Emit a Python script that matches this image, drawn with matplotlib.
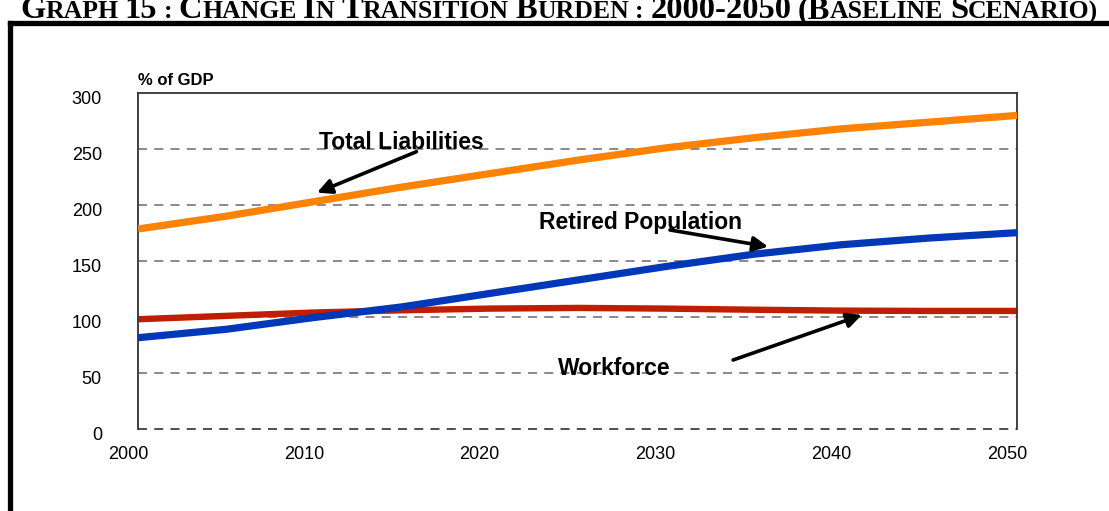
import matplotlib
matplotlib.use("Agg")
import matplotlib.pyplot as plt
import matplotlib.transforms as mtransforms
from matplotlib.lines import Line2D

# ---- data ----
years = [2000, 2005, 2010, 2015, 2020, 2025, 2030, 2035, 2040, 2045, 2050]
total_liabilities = [178.6, 190, 203, 216, 228, 240, 251, 260, 268, 274, 280]
retired_population = [81.5, 89, 99.5, 109, 121, 133, 145, 156, 164.5, 170.5, 175.3]
workforce = [98, 101, 104, 106, 107.5, 108.1, 107.5, 106.5, 105.7, 105.4, 105.4]
x_ticks = [2000, 2010, 2020, 2030, 2040, 2050]
y_ticks = [0, 50, 100, 150, 200, 250, 300]
title_text = "GRAPH 15 : CHANGE IN TRANSITION BURDEN : 2000-2050 (BASELINE SCENARIO)"

W, H = 1109, 511
fig = plt.figure(figsize=(W / 100, H / 100), dpi=100)
plt.rcParams['font.family'] = ['Liberation Sans', 'DejaVu Sans']

ax = fig.add_axes([138 / W, 1 - 429 / H, (1017 - 138) / W, (429 - 93) / H])
ax.set_xlim(2000, 2050)
ax.set_ylim(0, 300)

for yv in y_ticks[1:-1]:
    ax.axhline(yv, color='#808080', lw=1.3, ls=(0, (5, 4)), zorder=1)
ax.axhline(0, color='#404040', lw=1.3, ls=(0, (5, 4)), zorder=1, clip_on=False)

ax.plot(years, total_liabilities, color='#FF8200', lw=5.2, solid_capstyle='butt',
        solid_joinstyle='round', zorder=3)
ax.plot(years, retired_population, color='#0038B8', lw=5.2, solid_capstyle='butt',
        solid_joinstyle='round', zorder=3)
ax.plot(years, workforce, color='#C01E00', lw=4.6, solid_capstyle='butt',
        solid_joinstyle='round', zorder=2)

for s in ['left', 'top', 'right']:
    ax.spines[s].set_color('#333333')
    ax.spines[s].set_linewidth(1.3)
ax.spines['bottom'].set_visible(False)

ax.set_xticks(x_ticks)
ax.set_yticks(y_ticks)
ax.tick_params(axis='both', length=0, labelsize=13, colors='black')
ax.tick_params(axis='y', pad=26)
ax.tick_params(axis='x', pad=12)
offx = mtransforms.ScaledTranslation(-10 / 100, 0, fig.dpi_scale_trans)
for lab in ax.get_xticklabels():
    lab.set_transform(lab.get_transform() + offx)
offy = mtransforms.ScaledTranslation(0, -4 / 100, fig.dpi_scale_trans)
for lab in ax.get_yticklabels():
    lab.set_transform(lab.get_transform() + offy)

ax.text(0, 1.015, "% of GDP", transform=ax.transAxes, fontsize=12, fontweight='bold',
        ha='left', va='bottom')

arrow_kw = dict(arrowstyle='-|>', lw=2.6, color='black', mutation_scale=22,
                shrinkA=0, shrinkB=0)
ax.annotate("", xy=(2010.18, 211), xytext=(2015.84, 247.6), arrowprops=arrow_kw, zorder=5)
ax.annotate("", xy=(2035.84, 162.8), xytext=(2030.26, 177.7), arrowprops=arrow_kw, zorder=5)
ax.annotate("", xy=(2041.17, 101.8), xytext=(2033.85, 61.6), arrowprops=arrow_kw, zorder=5)

lab_kw = dict(fontsize=16.5, fontweight='bold', ha='center', va='center', zorder=6)
ax.text(2014.96, 255.4, "Total Liabilities", **lab_kw)
ax.text(2028.6, 184.8, "Retired Population", **lab_kw)
ax.text(2027.1, 53.6, "Workforce", **lab_kw)

# ---- frame ----
fig.add_artist(Line2D([10 / W, 10 / W], [0, 1 - 23 / H], color='black', lw=3.8,
                      transform=fig.transFigure, solid_capstyle='projecting'))
fig.add_artist(Line2D([10 / W, 1.01], [1 - 23 / H, 1 - 23 / H], color='black', lw=3.8,
                      transform=fig.transFigure, solid_capstyle='projecting'))

# ---- title in small caps ----
fig.canvas.draw()
renderer = fig.canvas.get_renderer()
big = 23.4
small = 18.5
tfam = ['Liberation Serif', 'DejaVu Serif']
x = 20
base_y = 1 - 18.5 / H
words = title_text.split(' ')
pieces = []
for wi, w in enumerate(words):
    if wi > 0:
        pieces.append((' ', small))
    if w[0] == '(':
        pieces.append((w[:2], big))
        pieces.append((w[2:], small))
    elif w[0].isalpha():
        pieces.append((w[0], big))
        if len(w) > 1:
            pieces.append((w[1:], small))
    elif w[0].isdigit():
        pieces.append((w, big))
    else:
        pieces.append((w, small))

for txt, sz in pieces:
    if txt == ' ':
        t2 = fig.text(0, 0, 'a a', fontsize=sz, fontweight='bold', family=tfam)
        t3 = fig.text(0, 0, 'aa', fontsize=sz, fontweight='bold', family=tfam)
        wsp = t2.get_window_extent(renderer).width - t3.get_window_extent(renderer).width
        t2.remove(); t3.remove()
        x += wsp
        continue
    t = fig.text(x / W, base_y, txt, fontsize=sz, fontweight='bold', family=tfam,
                 ha='left', va='baseline')
    x += t.get_window_extent(renderer).width

fig.savefig("out.png", dpi=100)
